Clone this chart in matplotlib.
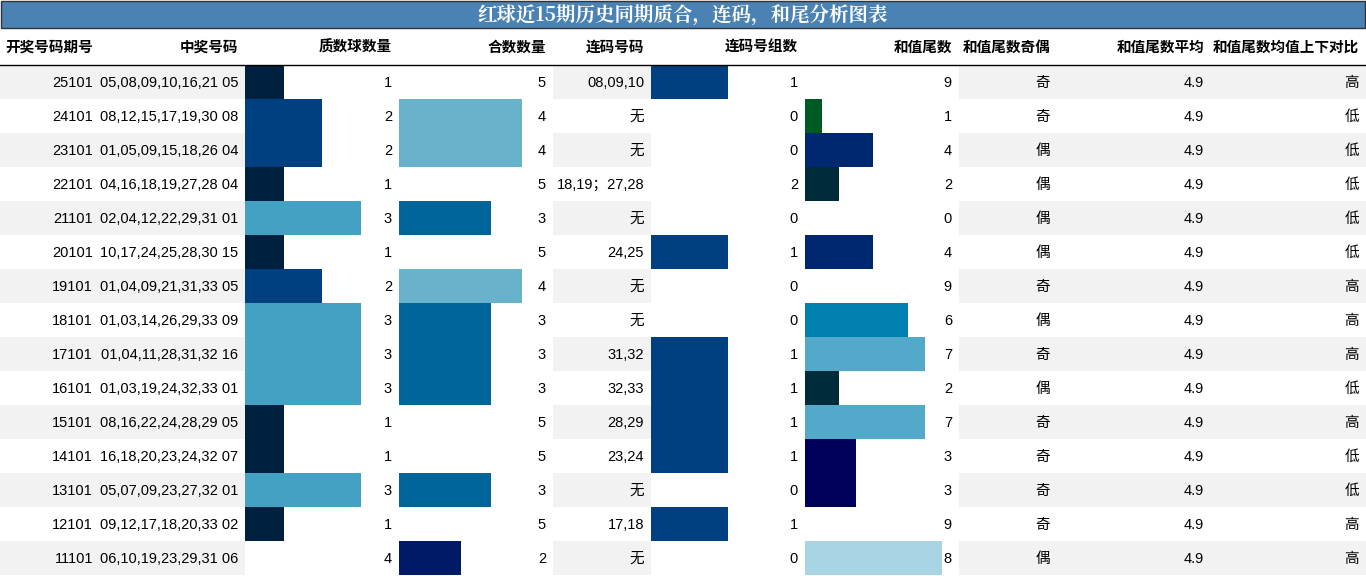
import matplotlib
matplotlib.use("Agg")
import matplotlib.pyplot as plt
from matplotlib.patches import Rectangle

plt.rcParams["font.family"] = ["Liberation Sans", "Noto Sans CJK SC", "DejaVu Sans"]

periods = ["25101", "24101", "23101", "22101", "21101", "20101", "19101", "18101",
           "17101", "16101", "15101", "14101", "13101", "12101", "11101"]
numbers = ["05,08,09,10,16,21 05", "08,12,15,17,19,30 08", "01,05,09,15,18,26 04",
           "04,16,18,19,27,28 04", "02,04,12,22,29,31 01", "10,17,24,25,28,30 15",
           "01,04,09,21,31,33 05", "01,03,14,26,29,33 09", "01,04,11,28,31,32 16",
           "01,03,19,24,32,33 01", "08,16,22,24,28,29 05", "16,18,20,23,24,32 07",
           "05,07,09,23,27,32 01", "09,12,17,18,20,33 02", "06,10,19,23,29,31 06"]
primes = [1, 2, 2, 1, 3, 1, 2, 3, 3, 3, 1, 1, 3, 1, 4]
composites = [5, 4, 4, 5, 3, 5, 4, 3, 3, 3, 5, 5, 3, 5, 2]
consec = ["08,09,10", "无", "无", "18,19；27,28", "无", "24,25", "无", "无",
          "31,32", "32,33", "28,29", "23,24", "无", "17,18", "无"]
consec_groups = [1, 0, 0, 2, 0, 1, 0, 0, 1, 1, 1, 1, 0, 1, 0]
tails = [9, 1, 4, 2, 0, 4, 9, 6, 7, 2, 7, 3, 3, 9, 8]
parity = ["奇", "奇", "偶", "偶", "偶", "偶", "奇", "偶", "奇", "偶", "奇", "奇", "奇", "奇", "偶"]
tail_avg = [4.9] * 15
compare = ["高", "低", "低", "低", "低", "低", "高", "高", "高", "低", "高", "低", "低", "高", "高"]

headers = ["开奖号码期号", "中奖号码", "质数球数量", "合数数量", "连码号码", "连码号组数",
           "和值尾数", "和值尾数奇偶", "和值尾数平均", "和值尾数均值上下对比"]
title = "红球近15期历史同期质合，连码，和尾分析图表"

# column edges in pixels
edges = [0, 100, 245, 399, 553, 651, 805, 959, 1057, 1211, 1366]
prime_colors = {1: "#00203f", 2: "#003f80", 3: "#43a2c3", 4: "#ffffff"}
comp_colors = {2: "#001a66", 3: "#00659b", 4: "#68b2cc", 5: "#ffffff"}
group_colors = {0: "#ffffff", 1: "#003f80", 2: "#ffffff"}
tail_colors = {0: "#ffffff", 1: "#005a23", 2: "#002b3b", 3: "#00005a", 4: "#002870",
               6: "#0080ae", 7: "#52a9c9", 8: "#a9d4e4", 9: "#ffffff"}

fig = plt.figure(figsize=(13.66, 5.76), dpi=100)
ax = fig.add_axes([0, 0, 1, 1])
ax.set_xlim(0, 1366)
ax.set_ylim(576, 0)
ax.axis("off")

ax.add_patch(Rectangle((1, 1), 1364, 27, facecolor="#4a82b4", edgecolor="#333333", lw=1))
ax.text(683, 15, title, color="white", fontsize=14, fontweight="bold", ha="center", va="center",
        family=["Noto Serif CJK SC", "Noto Sans CJK SC", "DejaVu Sans"])

hy = 47
for i, h in enumerate(headers):
    ax.text(edges[i + 1] - 7, hy, h, ha="right", va="center", fontsize=10.5, fontweight="bold",
            family=["Noto Sans CJK SC", "DejaVu Sans"])
ax.plot([0, 1366], [64.5, 64.5], color="black", lw=1)

row_h = 34
top = 65
bar_cols = {2: (primes, 4, prime_colors), 3: (composites, 5, comp_colors),
            5: (consec_groups, 2, group_colors), 6: (tails, 9, tail_colors)}
fs = 10.5
tf = ["Liberation Sans", "Noto Sans CJK SC", "DejaVu Sans"]
for r in range(len(periods)):
    y0 = top + r * row_h
    yc = y0 + row_h / 2
    bg = "#f2f2f2" if r % 2 == 0 else "white"
    for c in range(10):
        if c in bar_cols:
            continue
        ax.add_patch(Rectangle((edges[c], y0), edges[c + 1] - edges[c], row_h, facecolor=bg, lw=0))
    for c, (vals, vmax, cmap) in bar_cols.items():
        v = vals[r]
        w = (edges[c + 1] - edges[c]) * v / vmax
        ax.add_patch(Rectangle((edges[c], y0), w, row_h, facecolor=cmap.get(v, "white"), lw=0))
    texts = [periods[r], numbers[r], str(primes[r]), str(composites[r]), consec[r],
             str(consec_groups[r]), str(tails[r]), parity[r], f"{tail_avg[r]:.1f}", compare[r]]
    for c, t in enumerate(texts):
        ax.text(edges[c + 1] - 7, yc + 1, t, ha="right", va="center", fontsize=fs, family=tf)

fig.savefig("out.png", dpi=100)
